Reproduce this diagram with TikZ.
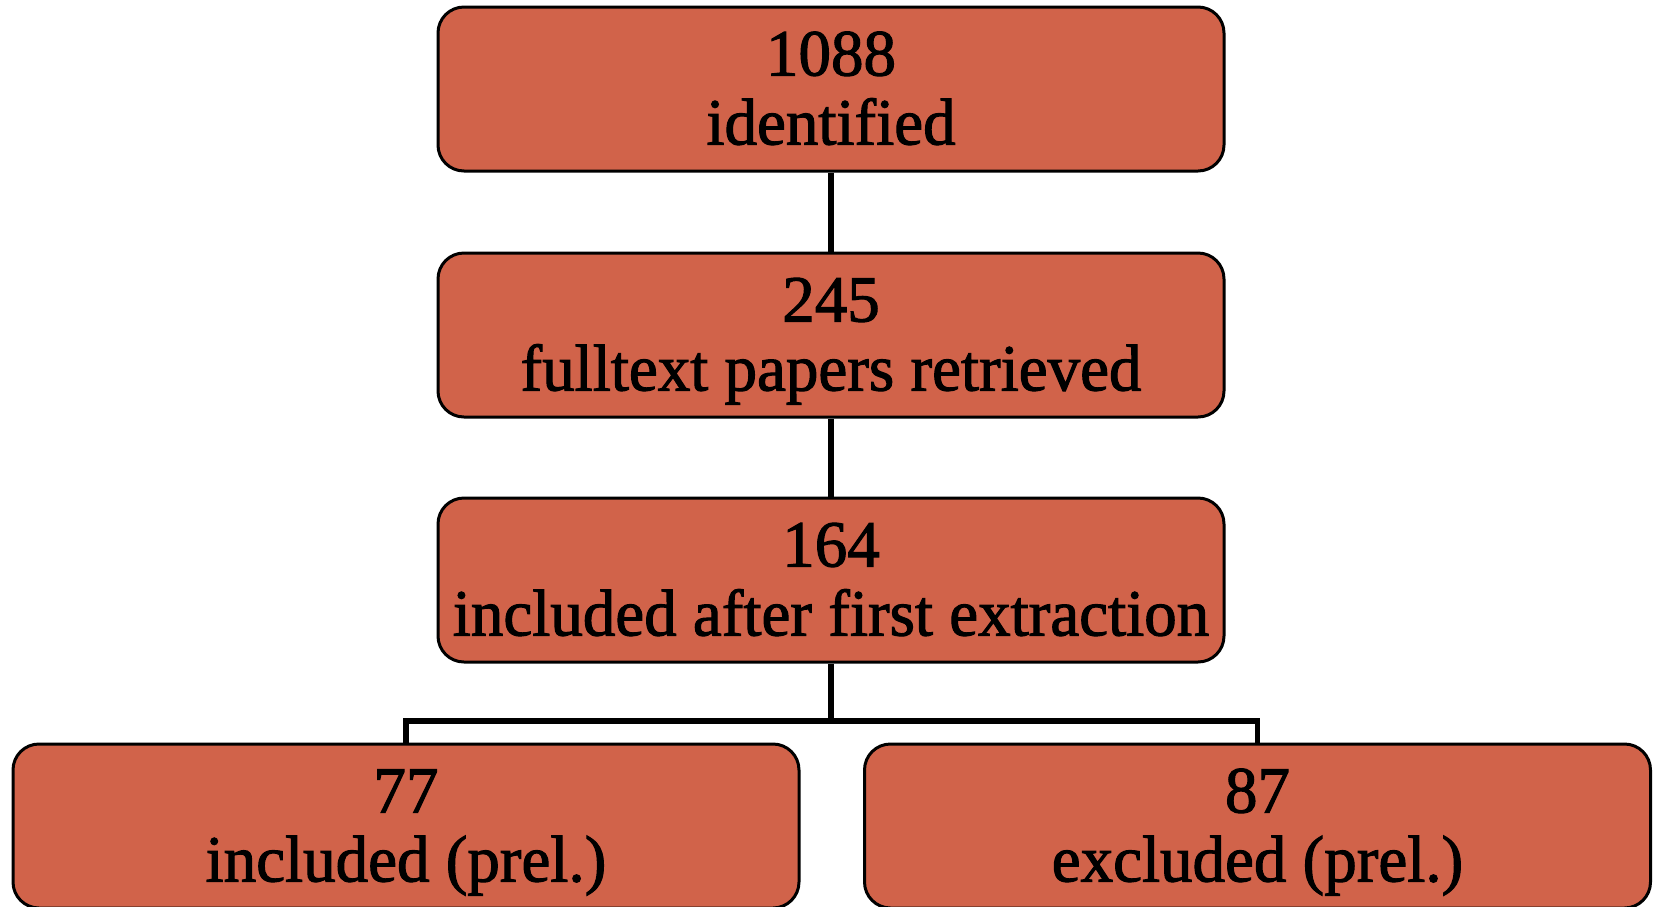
\documentclass[tikz,border=0pt]{standalone}
\usepackage{fontspec}
\setmainfont{Liberation Serif}[FakeBold=1.6, FakeStretch=0.985]
\definecolor{boxfill}{RGB}{209,99,74}
\begin{document}
\begin{tikzpicture}[x=1pt,y=-1pt,
  stagebox/.style={draw=black, line width=3pt, fill=boxfill, rounded corners=26pt,
    minimum width=786pt, minimum height=164pt, inner sep=0pt},
  numtxt/.style={font=\fontsize{66}{70}\selectfont, anchor=base, inner sep=0pt},
  labtxt/.style={font=\fontsize{66}{70}\selectfont, anchor=base, inner sep=0pt},
  conn/.style={draw=black, line width=5.5pt, line join=miter}]
\useasboundingbox (0,0) rectangle (1655,906);
\node[stagebox] (b1) at (831,89) {};
\node[stagebox] (b2) at (831,335) {};
\node[stagebox] (b3) at (831,580) {};
\node[stagebox] (b4) at (406,826) {};
\node[stagebox] (b5) at (1257.5,826) {};
\coordinate (j) at (831,721);
\draw[conn] (b1.south) -- (b2.north);
\draw[conn] (b2.south) -- (b3.north);
\draw[conn] (b3.south) -- (j);
\draw[conn] (b4.north) |- (j) -| (b5.north);
\node[numtxt] (b1n) at ([yshift=-70pt]b1.north) {1088};
\node[labtxt] (b1t) at ([yshift=-139pt]b1.north) {identified};
\node[numtxt] (b2n) at ([yshift=-70pt]b2.north) {245};
\node[labtxt] (b2t) at ([yshift=-139pt]b2.north) {fulltext papers retrieved};
\node[numtxt] (b3n) at ([yshift=-70pt]b3.north) {164};
\node[labtxt] (b3t) at ([yshift=-139pt]b3.north) {included after first extraction};
\node[numtxt] (b4n) at ([yshift=-70pt]b4.north) {77};
\node[labtxt] (b4t) at ([yshift=-139pt]b4.north) {included (prel.)};
\node[numtxt] (b5n) at ([yshift=-70pt]b5.north) {87};
\node[labtxt] (b5t) at ([yshift=-139pt]b5.north) {excluded (prel.)};
\end{tikzpicture}
\end{document}
